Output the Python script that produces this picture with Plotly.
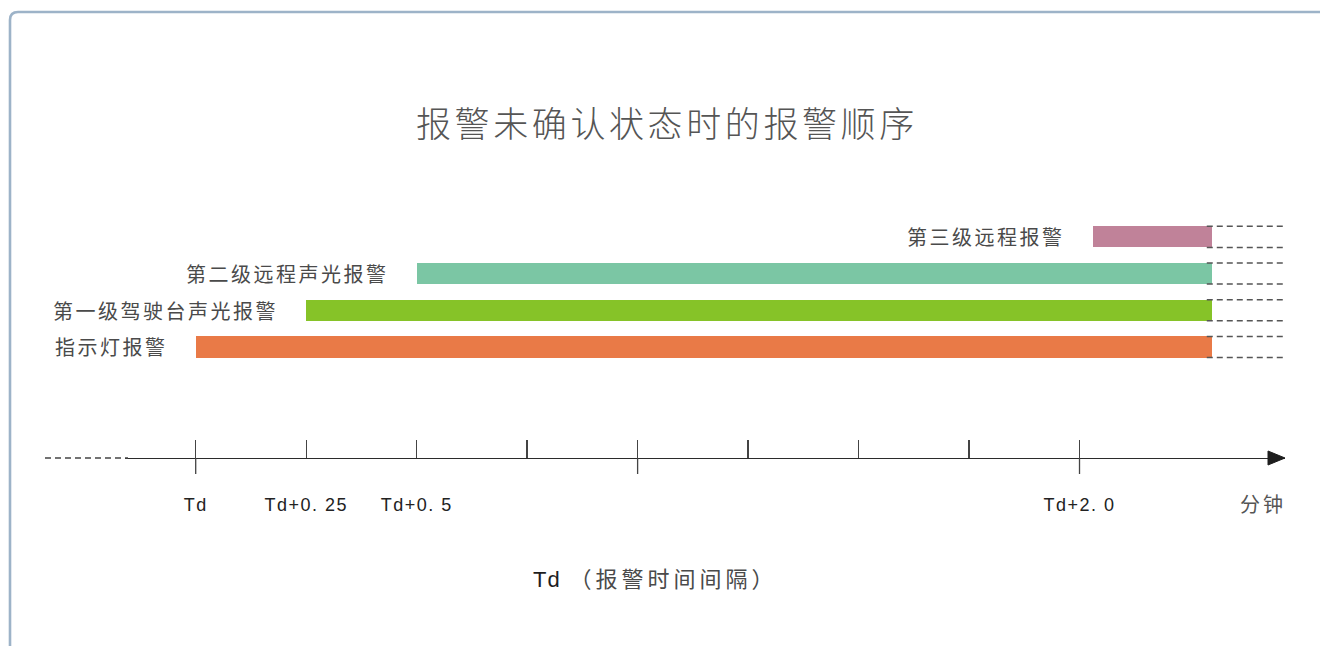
import plotly.graph_objects as go

# ---------------- data ----------------
categories = ["指示灯报警", "第一级驾驶台声光报警", "第二级远程声光报警", "第三级远程报警"]
start_min = [0.0, 0.25, 0.5, 2.03]       # minutes after Td
end_min = [2.3, 2.3, 2.3, 2.3]
bar_colors = ["#e97a47", "#86c328", "#7bc6a4", "#c08299"]

tick_vals = [0.0, 0.25, 0.5, 0.75, 1.0, 1.25, 1.5, 1.75, 2.0]
tick_text = ["Td", "Td+0. 25", "Td+0. 5", "", "", "", "", "", "Td+2. 0"]
major_ticks = [0.0, 1.0, 2.0]

title_text = "报警未确认状态时的报警顺序"
unit_text = "分钟"
axis_title = "Td（报警时间间隔）"

# ---------------- layout geometry ----------------
W, H = 1320, 646
ML, MR, MT, MB = 125, 35, 200, 188
PW, PH = W - ML - MR, H - MT - MB
x_range = [-0.16, 2.465]
y_range = [-3.025, 4.005]
bar_w = 0.573

def xp(px):
    return (px - ML) / PW

def yp(py):
    return (H - MB - py) / PH

def spaced(t, px):
    return f"<span style='letter-spacing:{px}px'>{t}</span>"

y_idx = list(range(len(categories)))
cjk = "Noto Sans CJK SC"

fig = go.Figure()

# bars
fig.add_trace(go.Bar(
    y=y_idx,
    x=[e - s for s, e in zip(start_min, end_min)],
    base=start_min,
    orientation="h",
    width=bar_w,
    marker=dict(color=bar_colors, line=dict(width=0)),
    hoverinfo="skip",
    showlegend=False,
))

# dashed continuation lines at top/bottom edges of each bar
dx, dy = [], []
for i, e in zip(y_idx, end_min):
    for off in (bar_w / 2, -bar_w / 2):
        dx += [e - 0.012, x_range[1], None]
        dy += [i + off, i + off, None]
fig.add_trace(go.Scatter(
    x=dx, y=dy, mode="lines",
    line=dict(color="#555555", width=1.5, dash="6px,4px"),
    hoverinfo="skip", showlegend=False, cliponaxis=False,
))

shapes = []
# downward parts of the major ticks
for v in major_ticks:
    shapes.append(dict(type="line", xref="x", yref="paper", x0=v, x1=v,
                       y0=0, y1=-16 / PH, line=dict(color="#444444", width=1.3)))
# dashed lead-in of the time axis
shapes.append(dict(type="line", xref="paper", yref="paper", x0=xp(45), x1=xp(128),
                   y0=0, y1=0, line=dict(color="#444444", width=1.3, dash="6px,4px")))
# arrow head
shapes.append(dict(type="path", xref="paper", yref="paper", xsizemode="pixel", ysizemode="pixel",
                   xanchor=1, yanchor=0,
                   path="M -17,-7 L 0,0 L -17,7 Z",
                   fillcolor="#1e1e1e", line=dict(color="#1e1e1e", width=1)))
# outer rounded frame (partially visible)
r = 8
shapes.append(dict(type="path", xref="paper", yref="paper",
                   path=(f"M {xp(10)},{yp(700)} L {xp(10)},{yp(12 + r)} "
                         f"Q {xp(10)},{yp(12)} {xp(10 + r)},{yp(12)} L {xp(1400)},{yp(12)}"),
                   line=dict(color="#9db3c8", width=2.6)))

annotations = []
for c, s, i in zip(categories, start_min, y_idx):
    annotations.append(dict(x=s, y=i, xref="x", yref="y", text=spaced(c, 2.5), showarrow=False,
                            xanchor="right", yanchor="middle", xshift=-26,
                            font=dict(family=cjk, size=20, color="#4a4a4a")))
annotations.append(dict(x=1, y=0, xref="paper", yref="paper", text=spaced(unit_text, 3),
                        showarrow=False, xanchor="right", yanchor="middle",
                        xshift=3, yshift=-45,
                        font=dict(family=cjk, size=20, color="#555555")))
annotations.append(dict(x=xp(655), y=yp(577), xref="paper", yref="paper",
                        text=("<span style='font-family:Liberation Sans;color:#1e1e1e;letter-spacing:1px'>Td</span>"
                              + "<span style='letter-spacing:4px'> " + axis_title[2:] + "</span>"),
                        showarrow=False, xanchor="center", yanchor="middle",
                        font=dict(family=cjk, size=22, color="#4a4a4a")))
annotations.append(dict(x=xp(667), y=yp(122), xref="paper", yref="paper",
                        text=spaced(title_text, 3.6),
                        showarrow=False, xanchor="center", yanchor="middle",
                        font=dict(family=cjk, size=35, color="#555555", weight=300)))

fig.update_layout(
    width=W, height=H,
    margin=dict(l=ML, r=MR, t=MT, b=MB, pad=0),
    paper_bgcolor="white", plot_bgcolor="white",
    shapes=shapes, annotations=annotations,
    showlegend=False, bargap=0,
    xaxis=dict(range=x_range, showgrid=False, zeroline=False,
               showline=True, linecolor="#2b2b2b", linewidth=1.3,
               ticks="inside", ticklen=18, tickwidth=1.3, tickcolor="#444444",
               tickvals=tick_vals, ticktext=[spaced(t, 1.5) if t else "" for t in tick_text],
               ticklabelstandoff=30,
               tickfont=dict(family="Liberation Sans", size=18, color="#222222"),
               fixedrange=True),
    yaxis=dict(range=y_range, visible=False, fixedrange=True),
)

fig.write_html("out.html", config={"displayModeBar": False, "staticPlot": True},
               post_script="document.body.style.margin='0';document.body.style.overflow='hidden';")
